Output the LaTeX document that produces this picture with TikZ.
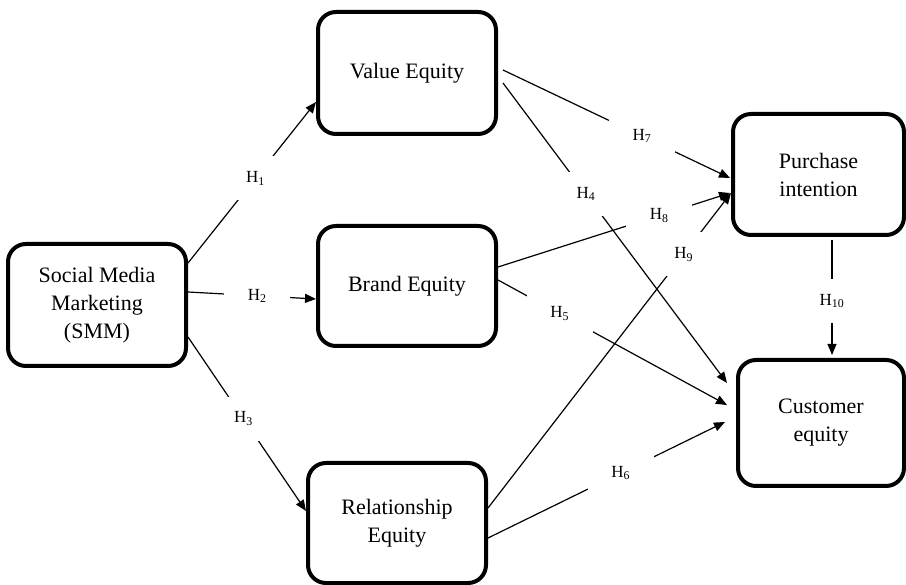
\documentclass[tikz,border=0pt]{standalone}
\usepackage{fontspec}
\setmainfont{Liberation Serif}
\usetikzlibrary{arrows.meta,calc}
\begin{document}
\begin{tikzpicture}[x=1pt,y=-1pt,
  box/.style={draw,line width=4pt,rounded corners=18pt,align=center,
    font=\fontsize{22}{28}\selectfont,inner sep=0pt},
  conn/.style={line width=1.2pt},
  arr/.style={conn,-{Triangle[length=11pt,width=9pt]}},
  lbl/.style={fill=white,minimum width=66pt,minimum height=44pt,inner sep=0pt,
    font=\fontsize{17}{19}\selectfont}]
\useasboundingbox (0,0) rectangle (906,585);
\node[box,minimum width=178pt,minimum height=122pt] (smm) at (97,305) {Social Media\\Marketing\\(SMM)};
\node[box,minimum width=178pt,minimum height=122pt] (val) at (407,73) {Value Equity};
\node[box,minimum width=178pt,minimum height=120pt] (brand) at (407,286) {Brand Equity};
\node[box,minimum width=178pt,minimum height=120pt] (rel) at (397,523) {Relationship\\Equity};
\node[box,minimum width=171pt,minimum height=121pt] (pur) at (818.5,174.5) {Purchase\\intention};
\node[box,minimum width=166pt,minimum height=126pt] (cust) at (821,423) {Customer\\equity};
% SMM outgoing
\draw[arr] ($(smm.east)+(0,-42)$) -- node[lbl,pos=0.527] (h1) {H\textsubscript{1}} ($(val.west)+(0,29)$);
\draw[arr] ($(smm.east)+(0,-13)$) -- node[lbl,pos=0.54] (h2) {H\textsubscript{2}} ($(brand.west)+(0,13)$);
\draw[arr] ($(smm.east)+(0,32)$) -- node[lbl,pos=0.47] (h3) {H\textsubscript{3}} ($(rel.west)+(0,-12)$);
% Value outgoing
\draw[arr] ($(val.east)+(5,-3)$) -- node[lbl,pos=0.612] (h7) {H\textsubscript{7}} ($(pur.west)+(-1,3.5)$);
\draw[arr] ($(val.east)+(5,10)$) -- node[lbl,pos=0.37] (h4) {H\textsubscript{4}} ($(cust.west)+(-9,-40)$);
% Brand outgoing
\draw[arr] ($(brand.east)+(0,-19)$) -- node[lbl,pos=0.695] (h8) {H\textsubscript{8}} ($(pur.west)+(-1,18.5)$);
\draw[arr] ($(brand.east)+(0,-6)$) -- node[lbl,pos=0.27] (h5) {H\textsubscript{5}} ($(cust.west)+(-9,-18)$);
% Relationship outgoing
\draw[arr] ($(rel.east)+(0,-15)$) -- node[lbl,pos=0.805] (h9) {H\textsubscript{9}} ($(pur.west)+(0,18.5)$);
\draw[arr] ($(rel.east)+(0,15)$) -- node[lbl,pos=0.56] (h6) {H\textsubscript{6}} ($(cust.west)+(-11,-1)$);
% Purchase to customer
\draw[arr] ($(pur.south)+(13.5,3)$) -- node[lbl,pos=0.53] (h10) {H\textsubscript{10}} ($(cust.north)+(11,-3)$);
\end{tikzpicture}
\end{document}
